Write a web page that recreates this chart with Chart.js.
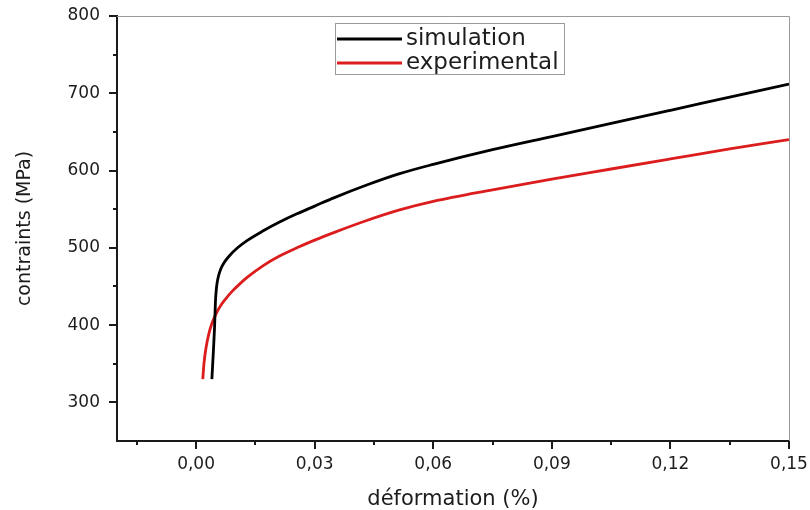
<!DOCTYPE html>
<html>
<head>
<meta charset="utf-8">
<script src="https://cdn.jsdelivr.net/npm/chart.js@4"></script>
<style>
  html, body { margin: 0; padding: 0; background: #fff; }
  #wrap { width: 810px; height: 510px; }
</style>
</head>
<body>
<div id="wrap"><canvas id="c" width="810" height="510"></canvas></div>
<script>
// Stress-strain curves: simulation vs. experiment
const simStrain = [0.0040, 0.0044, 0.0047, 0.0049, 0.0052, 0.0056, 0.0062, 0.0070, 0.0085, 0.0105,
                   0.0128, 0.0170, 0.0210, 0.0255, 0.0300, 0.0350, 0.0430, 0.0515, 0.0600, 0.0750,
                   0.0900, 0.1050, 0.1200, 0.1350, 0.1500];
const simStress = [330, 368, 400, 430, 450, 462, 472, 480, 490, 500,
                   509, 522, 533, 544, 554, 565, 581, 596, 608, 627,
                   644, 661, 678, 695, 712];

const expStrain = [0.0017, 0.0020, 0.0025, 0.0032, 0.0040, 0.0050, 0.0062, 0.0075, 0.0090, 0.0110,
                   0.0130, 0.0170, 0.0210, 0.0255, 0.0300, 0.0350, 0.0430, 0.0515, 0.0600, 0.0750,
                   0.0900, 0.1050, 0.1200, 0.1350, 0.1500];
const expStress = [330, 350, 370, 388, 402, 414, 425, 434, 443, 453,
                   462, 477, 489, 500, 510, 520, 535, 549, 560, 575,
                   589, 602, 615, 628, 640];

const seriesLabels = ['simulation', 'experimental'];

// Tick positions (major ticks carry labels, minor ticks sit halfway between)
const xTicks = [-0.015, 0, 0.015, 0.03, 0.045, 0.06, 0.075, 0.09, 0.105, 0.12, 0.135, 0.15];
const xMajor = [0, 0.03, 0.06, 0.09, 0.12, 0.15];
const yTicks = [300, 350, 400, 450, 500, 550, 600, 650, 700, 750, 800];
const yMajor = [300, 400, 500, 600, 700, 800];

const FONT = "'DejaVu Sans', 'Liberation Sans', Arial, sans-serif";
const TEXT = '#1c1c1c';

const isMajor = (list, v) => list.some(m => Math.abs(m - v) < 1e-9);

function pts(xs, ys) { return xs.map((x, i) => ({ x, y: ys[i] })); }

// Draws the outward tick marks, the thin top/right frame and the boxed legend
const framePlugin = {
  id: 'frame',
  afterDraw(chart) {
    const { ctx, chartArea: a, scales } = chart;
    ctx.save();
    // thin grey frame on top and right
    ctx.strokeStyle = '#9a9a9a';
    ctx.lineWidth = 1;
    ctx.beginPath();
    ctx.moveTo(a.left, a.top + 0.5);
    ctx.lineTo(a.right + 0.5, a.top + 0.5);
    ctx.lineTo(a.right + 0.5, a.bottom);
    ctx.stroke();

    // tick marks
    ctx.strokeStyle = '#1a1a1a';
    ctx.lineWidth = 2;
    ctx.beginPath();
    scales.x.ticks.forEach(t => {
      const px = Math.round(scales.x.getPixelForValue(t.value));
      const len = isMajor(xMajor, t.value) ? 8 : 4;
      ctx.moveTo(px, a.bottom);
      ctx.lineTo(px, a.bottom + len);
    });
    scales.y.ticks.forEach(t => {
      const py = Math.round(scales.y.getPixelForValue(t.value));
      const len = isMajor(yMajor, t.value) ? 8 : 4;
      ctx.moveTo(a.left, py);
      ctx.lineTo(a.left - len, py);
    });
    ctx.stroke();

    // legend
    const box = { x: 335, y: 23, w: 229, h: 51 };
    ctx.strokeStyle = '#9a9a9a';
    ctx.lineWidth = 1;
    ctx.strokeRect(box.x + 0.5, box.y + 0.5, box.w, box.h);
    ctx.font = '23px ' + FONT;
    ctx.textBaseline = 'middle';
    ctx.textAlign = 'left';
    chart.data.datasets.forEach((ds, i) => {
      const cy = box.y + 16 + i * 24;
      ctx.strokeStyle = ds.borderColor;
      ctx.lineWidth = 3;
      ctx.beginPath();
      ctx.moveTo(box.x + 2, cy);
      ctx.lineTo(box.x + 67, cy);
      ctx.stroke();
      ctx.fillStyle = TEXT;
      ctx.fillText(ds.label, box.x + 71, cy);
    });
    ctx.restore();
  }
};

new Chart(document.getElementById('c'), {
  type: 'line',
  data: {
    datasets: [
      { label: seriesLabels[0], data: pts(simStrain, simStress), borderColor: '#000000' },
      { label: seriesLabels[1], data: pts(expStrain, expStress), borderColor: '#dc1d1d' }
    ]
  },
  options: {
    responsive: false,
    animation: false,
    devicePixelRatio: 1,
    layout: { padding: { top: 16, right: 21, left: 0, bottom: 0 } },
    elements: {
      line: { borderWidth: 2.8, cubicInterpolationMode: 'monotone', fill: false },
      point: { radius: 0, hoverRadius: 0 }
    },
    plugins: { legend: { display: false }, tooltip: { enabled: false } },
    scales: {
      x: {
        type: 'linear',
        min: -0.02,
        max: 0.15,
        afterBuildTicks: s => { s.ticks = xTicks.map(v => ({ value: v })); },
        afterFit: s => { s.height = 69; s.paddingLeft = 0; s.paddingRight = 0; },
        grid: { display: false, drawTicks: false },
        border: { display: true, color: '#1a1a1a', width: 2 },
        ticks: {
          autoSkip: false, maxRotation: 0, padding: 13, color: TEXT,
          font: { family: FONT, size: 17 },
          callback: v => isMajor(xMajor, v) ? v.toFixed(2).replace('.', ',') : ''
        },
        title: {
          display: true, text: 'déformation (%)', color: TEXT,
          font: { family: FONT, size: 21 }, padding: { top: 0, bottom: -2 }
        }
      },
      y: {
        type: 'linear',
        min: 250,
        max: 800,
        afterBuildTicks: s => { s.ticks = yTicks.map(v => ({ value: v })); },
        afterFit: s => { s.width = 117; s.paddingTop = 0; s.paddingBottom = 0; },
        grid: { display: false, drawTicks: false },
        border: { display: true, color: '#1a1a1a', width: 2 },
        ticks: {
          autoSkip: false, padding: 17, color: TEXT,
          font: { family: FONT, size: 17 },
          callback: v => isMajor(yMajor, v) ? String(v) : ''
        },
        title: {
          display: true, text: 'contraints (MPa)', color: TEXT,
          font: { family: FONT, size: 19 }, padding: { top: 13.5, bottom: 0 }
        }
      }
    }
  },
  plugins: [framePlugin]
});
</script>
</body>
</html>
